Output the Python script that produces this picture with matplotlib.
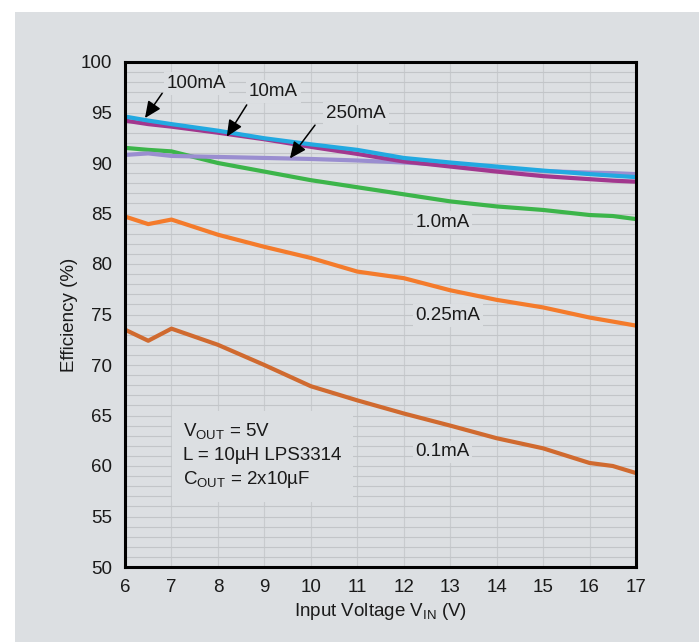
import matplotlib
matplotlib.use('Agg')
import matplotlib.pyplot as plt
from matplotlib.patches import Rectangle

plt.rcParams['font.family'] = ['Liberation Sans', 'DejaVu Sans']
plt.rcParams['mathtext.fontset'] = 'custom'
plt.rcParams['mathtext.rm'] = 'Liberation Sans'
plt.rcParams['mathtext.it'] = 'Liberation Sans'

# ── data ─────────────────────────────────────────────────────────────
vin = [6, 6.5, 7, 8, 9, 10, 11, 12, 13, 14, 15, 16, 16.5, 17]

eff_100ma = [94.6, 94.2, 93.85, 93.2, 92.45, 91.85, 91.3, 90.5, 90.05, 89.65, 89.25, 88.9, 88.75, 88.6]
eff_10ma = [94.2, 93.85, 93.6, 93.0, 92.35, 91.6, 90.9, 90.15, 89.65, 89.15, 88.7, 88.4, 88.25, 88.15]
eff_250ma = [90.8, 90.95, 90.7, 90.6, 90.5, 90.4, 90.25, 90.05, 89.8, 89.5, 89.2, 89.05, 89.0, 88.9]
eff_1ma = [91.5, 91.3, 91.15, 90.0, 89.15, 88.3, 87.6, 86.9, 86.2, 85.7, 85.35, 84.85, 84.75, 84.45]
eff_025ma = [84.7, 83.95, 84.4, 82.9, 81.7, 80.6, 79.25, 78.6, 77.4, 76.45, 75.7, 74.7, 74.3, 73.9]
eff_01ma = [73.5, 72.4, 73.6, 72.0, 70.0, 67.9, 66.5, 65.2, 64.0, 62.75, 61.75, 60.3, 60.0, 59.3]

x_ticks = list(range(6, 18))
y_ticks = list(range(50, 101, 5))

BG = '#dcdfe2'
HGRID = '#c2c5c8'
VGRID = '#c8cbce'
INK = '#1a1a1a'

fig = plt.figure(figsize=(6.99, 6.42), dpi=100, facecolor='white')
fig.patches.append(Rectangle((15 / 699, 0), 1, 1 - 12 / 642,
                             transform=fig.transFigure, facecolor=BG,
                             edgecolor='none', zorder=-10))
ax = fig.add_axes([125 / 699, 1 - 567 / 642, 511 / 699, 505 / 642])
ax.set_facecolor(BG)

# grid: vertical at each volt, horizontal at each percent
for v in x_ticks[1:-1]:
    ax.axvline(v, color=VGRID, lw=0.8, zorder=0)
for e in range(51, 100):
    ax.axhline(e, color=HGRID, lw=0.8, zorder=0)

lw = 3.0
ax.plot(vin, eff_1ma, color='#3cb54a', lw=lw, zorder=3)
ax.plot(vin, eff_025ma, color='#f47b2b', lw=lw, zorder=3)
ax.plot(vin, eff_01ma, color='#d06a2f', lw=lw, zorder=3)
ax.plot(vin, eff_250ma, color='#9a8ed0', lw=lw, zorder=4)
ax.plot(vin, eff_10ma, color='#a2378e', lw=lw, zorder=4)
ax.plot(vin, eff_100ma, color='#22a9e1', lw=lw, zorder=5)

ax.set_xlim(6, 17)
ax.set_ylim(50, 100)
ax.set_xticks(x_ticks)
ax.set_yticks(y_ticks)
ax.tick_params(length=0, labelsize=13.5, colors=INK)
ax.tick_params(axis='y', pad=9)
ax.tick_params(axis='x', pad=9)
for sp in ax.spines.values():
    sp.set_linewidth(2.2)
    sp.set_color('black')
    sp.set_zorder(6)

ax.set_ylabel('Efficiency (%)', fontsize=13.5, labelpad=2, color=INK)
ax.set_xlabel(r'Input Voltage V$_{\rm IN}$ (V)', fontsize=13.5, labelpad=3,
              color=INK)

box = dict(facecolor=BG, edgecolor='none', pad=2)
txt = dict(fontsize=13.5, color=INK, zorder=7)
arrow = dict(arrowstyle='-|>,head_length=1.0,head_width=0.45', color='black',
             lw=1.1, shrinkA=0, shrinkB=0)

# arrowed load-current labels
ax.text(7.53, 97.9, '100mA', ha='center', va='center', bbox=box, **txt)
ax.annotate('', xy=(6.43, 94.45), xytext=(6.8, 96.9), arrowprops=arrow, zorder=8)
ax.text(9.19, 97.05, '10mA', ha='center', va='center', bbox=box, **txt)
ax.annotate('', xy=(8.19, 92.6), xytext=(8.62, 95.75), arrowprops=arrow, zorder=8)
ax.text(10.97, 94.9, '250mA', ha='center', va='center', bbox=box, **txt)
ax.annotate('', xy=(9.55, 90.45), xytext=(10.09, 93.75), arrowprops=arrow, zorder=8)

# plain labels
ax.text(12.25, 84.1, '1.0mA', ha='left', va='center', bbox=box, **txt)
ax.text(12.25, 74.9, '0.25mA', ha='left', va='center', bbox=box, **txt)
ax.text(12.25, 61.4, '0.1mA', ha='left', va='center', bbox=box, **txt)

# conditions block
cond = 'V$_{\\rm OUT}$ = 5V\nL = 10\u00b5H LPS3314\nC$_{\\rm OUT}$ = 2x10\u00b5F'
ax.text(7.25, 61.0, cond, ha='left', va='center', linespacing=1.4,
        bbox=dict(facecolor=BG, edgecolor='none', pad=8), **txt)

fig.savefig('out.png', dpi=100, facecolor=fig.get_facecolor())
